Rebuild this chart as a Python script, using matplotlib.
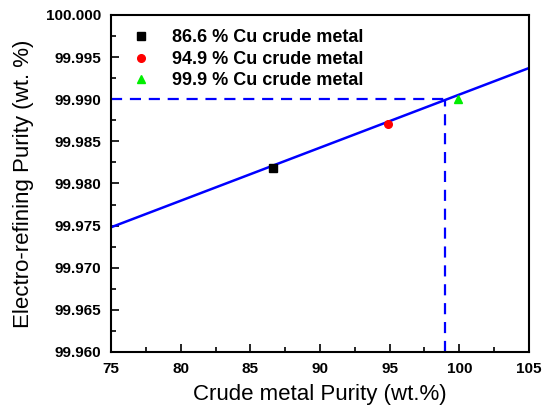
import matplotlib
matplotlib.use("Agg")
import matplotlib.pyplot as plt
from matplotlib.ticker import MultipleLocator, FormatStrFormatter

plt.rcParams["font.family"] = ["Liberation Sans", "DejaVu Sans"]

# measured samples
sample_x = [86.6, 94.9, 99.9]
sample_y = [99.9818, 99.9870, 99.9900]
sample_labels = ["86.6 % Cu crude metal", "94.9 % Cu crude metal", "99.9 % Cu crude metal"]
sample_colors = ["black", "red", "#00ee00"]
sample_markers = ["s", "o", "^"]

# linear fit line
fit_x = [75, 105]
fit_y = [99.9748, 99.9937]

# target purity guide
target_y = 99.990
target_x = 99.0

fig = plt.figure(figsize=(5.47, 4.11), dpi=100, facecolor="white")
ax = fig.add_axes([0.203, 0.1436, 0.764, 0.82])

ax.plot(fit_x, fit_y, color="#0000ff", linewidth=1.8, zorder=2)
ax.plot([75, target_x], [target_y, target_y], color="#0000ff", linestyle=(0, (5, 3.5)),
        linewidth=1.6, zorder=2)
ax.plot([target_x, target_x], [99.960, target_y], color="#0000ff", linestyle=(0, (5, 3.5)),
        linewidth=1.6, zorder=2)

for x, y, c, m, lab in zip(sample_x, sample_y, sample_colors, sample_markers, sample_labels):
    ax.plot([x], [y], linestyle="none", marker=m, color=c, markersize=5.5, label=lab, zorder=3)

ax.set_xlim(75, 105)
ax.set_ylim(99.960, 100.000)
ax.xaxis.set_major_locator(MultipleLocator(5))
ax.xaxis.set_minor_locator(MultipleLocator(2.5))
ax.yaxis.set_major_locator(MultipleLocator(0.005))
ax.yaxis.set_minor_locator(MultipleLocator(0.0025))
ax.yaxis.set_major_formatter(FormatStrFormatter("%.3f"))

ax.tick_params(which="both", direction="in", width=1.2, top=False, right=False)
ax.tick_params(which="major", length=6, labelsize=11, pad=7)
ax.tick_params(which="minor", length=3.5)
for lab in ax.get_xticklabels() + ax.get_yticklabels():
    lab.set_fontweight("bold")
for sp in ax.spines.values():
    sp.set_linewidth(1.5)

ax.set_xlabel("Crude metal Purity (wt.%)", fontsize=16, labelpad=6)
ax.set_ylabel("Electro-refining Purity (wt. %)", fontsize=16, labelpad=9)

leg = ax.legend(loc="upper left", frameon=False, prop={"weight": "bold", "size": 13},
                handletextpad=0.9, labelspacing=0.25, borderaxespad=0.4, handlelength=1.7)

fig.savefig("out.png", dpi=100)
